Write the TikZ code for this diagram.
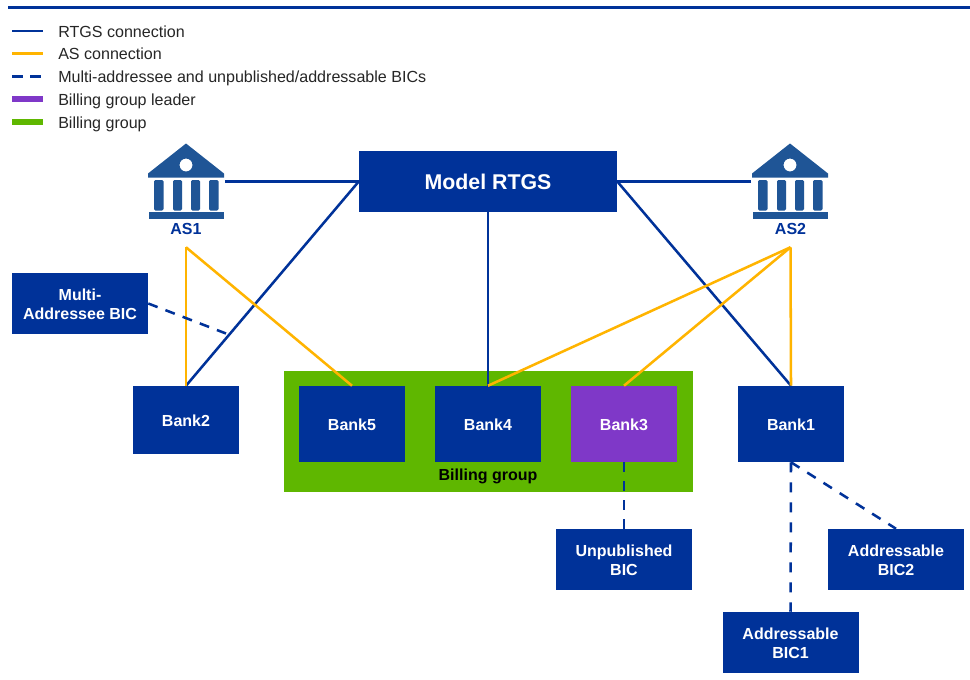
\documentclass[tikz,border=0pt]{standalone}
\usepackage{fontspec}
\setmainfont{Liberation Sans}
\definecolor{ecbblue}{HTML}{003299}
\definecolor{asyellow}{HTML}{FFB400}
\definecolor{leaderpurple}{HTML}{7F38C8}
\definecolor{groupgreen}{HTML}{5FB700}
\definecolor{iconblue}{HTML}{1F5596}
\newcommand{\bankicon}[1]{%
  \begin{scope}[shift={(#1,0)},iconblue]
    \fill[even odd rule] (186,143.5) -- (224,173.5) -- (224,177.5) -- (148,177.5) -- (148,173.5) -- cycle
      (192.5,165) arc[start angle=0,end angle=360,radius=6.5];
    \fill[rounded corners=1pt] (154,180) rectangle (163.5,210.5);
    \fill[rounded corners=1pt] (173,180) rectangle (182,210.5);
    \fill[rounded corners=1pt] (191,180) rectangle (200,210.5);
    \fill[rounded corners=1pt] (209,180) rectangle (218.5,210.5);
    \fill (149,212) rectangle (224,219);
  \end{scope}}
\tikzset{
  x=0.75pt,y=-0.75pt,
  boxed/.style={fill=ecbblue,text=white,font=\fontsize{12}{14.25}\selectfont\bfseries,align=center,inner sep=0pt,minimum width=102pt,minimum height=45.75pt,text height=24pt,text depth=0pt},
  banknode/.style={boxed,minimum width=79.5pt,minimum height=57pt,text height=9.2pt},
  leader/.style={banknode,fill=leaderpurple},
  rtgs/.style={draw=ecbblue,line width=1.9pt},
  asline/.style={draw=asyellow,line width=1.9pt},
  bicline/.style={draw=ecbblue,line width=1.9pt,dash pattern=on 7.5pt off #1},
  legendtext/.style={anchor=base west,inner sep=0pt,font=\fontsize{12.05}{14}\selectfont,text=black!85},
  aslabel/.style={text=ecbblue,font=\fontsize{12}{14}\selectfont\bfseries,inner sep=0pt,minimum height=27pt},
  iconbox/.style={inner sep=0pt,minimum width=58pt,minimum height=57pt},
}
\begin{document}
\begin{tikzpicture}
\useasboundingbox (0,0) rectangle (970,679);
\fill[white] (0,0) rectangle (970,679);
% top rule
\coordinate (ruleL) at (8,7.5);
\coordinate (ruleR) at (970,7.5);
\draw[rtgs] (ruleL) -- (ruleR);
% legend
\coordinate (k1a) at (12,31); \coordinate (k1b) at (43,31);
\coordinate (k2a) at (12,53.5); \coordinate (k2b) at (43,53.5);
\coordinate (k3a) at (12,76.5); \coordinate (k3b) at (43,76.5);
\coordinate (k4a) at (12,98.7); \coordinate (k4b) at (43,98.7);
\coordinate (k5a) at (12,122); \coordinate (k5b) at (43,122);
\draw[rtgs] (k1a) -- (k1b);
\draw[asline] (k2a) -- (k2b);
\draw[bicline=5.6pt,dash pattern=on 8pt off 5.6pt] (k3a) -- (k3b);
\draw[draw=leaderpurple,line width=4.5pt] (k4a) -- (k4b);
\draw[draw=groupgreen,line width=4.5pt] (k5a) -- (k5b);
\node[legendtext] (t1) at (58,37) {RTGS connection};
\node[legendtext] (t2) at (58,59.5) {AS connection};
\node[legendtext] (t3) at (58,82.5) {Multi-addressee and unpublished/addressable BICs};
\node[legendtext] (t4) at (58,105) {Billing group leader};
\node[legendtext] (t5) at (58,128) {Billing group};
% billing group
\node[fill=groupgreen,inner sep=0pt,minimum width=306.75pt,minimum height=90.75pt] (group) at (488.5,431.5) {};
\node[inner sep=0pt,font=\fontsize{12}{14}\selectfont\bfseries] (grouplabel) at (488,476.5) {Billing group};
% nodes
\node[boxed,minimum width=193.5pt,minimum height=45.75pt,font=\fontsize{16}{18}\selectfont\bfseries,text height=12.6pt] (rtgsnode) at (488,181.5) {Model RTGS};
\node[iconbox] (as1icon) at (186,181.5) {};
\node[iconbox] (as2icon) at (790,181.5) {};
\bankicon{0}
\bankicon{604}
\node[aslabel] (as1) at (186,229) {AS1};
\node[aslabel] (as2) at (790.5,229) {AS2};
\node[boxed] (multi) at (80,303.5) {Multi-\\Addressee BIC};
\node[banknode,minimum height=51pt] (bank2) at (186,420) {Bank2};
\node[banknode] (bank5) at (352,424) {Bank5};
\node[banknode] (bank4) at (488,424) {Bank4};
\node[leader] (bank3) at (624,424) {Bank3};
\node[banknode] (bank1) at (791,424) {Bank1};
\node[boxed] (unpub) at (624,559.5) {Unpublished\\BIC};
\node[boxed] (bic2) at (896,559.5) {Addressable\\BIC2};
\node[boxed] (bic1) at (790.5,642.5) {Addressable\\BIC1};
\coordinate (multiend) at (226,333.5);
% RTGS connections
\draw[rtgs] (as1icon.east) -- (rtgsnode.west);
\draw[rtgs] (as2icon.west) -- (rtgsnode.east);
\draw[rtgs] (rtgsnode.west) -- (bank2.north);
\draw[rtgs] (rtgsnode.south) -- (bank4.north);
\draw[rtgs] (rtgsnode.east) -- (bank1.north);
% AS connections
\draw[asline] (as1.south) -- (bank2.north);
\draw[asline] (as1.south) -- (bank5.north);
\draw[asline] (as2.south) -- (bank4.north);
\draw[asline] (as2.south) -- (bank3.north);
\draw[asline] (as2.south) -- (bank1.north);
% BIC connections
\draw[bicline=6.3pt] (multi.east) -- (multiend);
\draw[bicline=6.75pt] (bank3.south) -- (unpub.north);
\draw[bicline=7.5pt] (bank1.south) -- (bic1.north);
\draw[bicline=6.9pt] (bank1.south) -- (bic2.north);
\end{tikzpicture}
\end{document}
